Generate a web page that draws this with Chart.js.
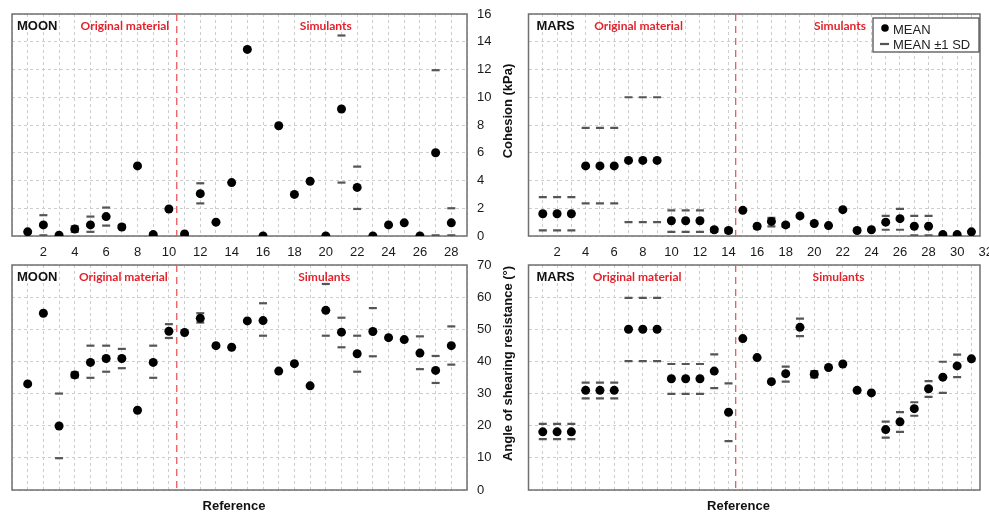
<!DOCTYPE html>
<html>
<head>
<meta charset="utf-8">
<script src="https://cdn.jsdelivr.net/npm/chart.js@4.4.1/dist/chart.umd.min.js"></script>
<style>
  body { margin: 0; background: #fff; }
  #wrap { position: relative; width: 989px; height: 513px; overflow: hidden; }
  #wrap canvas { position: absolute; left: 0; top: 0; }
</style>
</head>
<body>
<div id="wrap">
  <canvas id="moonCoh" width="989" height="513"></canvas>
  <canvas id="marsCoh" width="989" height="513"></canvas>
  <canvas id="moonAng" width="989" height="513"></canvas>
  <canvas id="marsAng" width="989" height="513"></canvas>
</div>
<script>
// reference numbers (x categories)
const moonRefs = [1,2,3,4,5,6,7,8,9,10,11,12,13,14,15,16,17,18,19,20,21,22,23,24,25,26,27,28];
const marsRefs = [1,2,3,4,5,6,7,8,9,10,11,12,13,14,15,16,17,18,19,20,21,22,23,24,25,26,27,28,29,30,31];

// tick labels
const moonXTicks = [2,4,6,8,10,12,14,16,18,20,22,24,26,28];
const marsXTicks = [2,4,6,8,10,12,14,16,18,20,22,24,26,28,30,32];
const cohTicks = [0,2,4,6,8,10,12,14,16];
const angTicks = [0,10,20,30,40,50,60,70];

// cohesion (kPa) - moon
const moonCohMean = [0.3,0.8,0.05,0.5,0.8,1.4,0.65,5.05,0.1,1.95,0.15,3.05,1.0,3.85,13.45,0,7.95,3.0,3.95,0,9.15,3.5,0,0.8,0.95,0,6.0,0.95];
const moonCohUp   = [null,1.5,null,0.7,1.4,2.05,0.8,null,0.2,null,null,3.8,null,null,null,null,null,null,null,null,14.45,5.0,null,null,null,null,11.95,2.0];
const moonCohLo   = [null,0.05,null,0.3,0.3,0.75,0.55,null,0.05,null,null,2.35,null,null,null,null,null,null,null,null,3.85,1.95,null,null,null,null,0.05,0.05];

// cohesion (kPa) - mars
const marsCohMean = [1.6,1.6,1.6,5.05,5.05,5.05,5.45,5.45,5.45,1.1,1.1,1.1,0.45,0.4,1.85,0.7,1.05,0.8,1.45,0.9,0.75,1.9,0.4,0.45,1.0,1.25,0.7,0.7,0.1,0.1,0.3];
const marsCohUp   = [2.8,2.8,2.8,7.8,7.8,7.8,10.0,10.0,10.0,1.85,1.85,1.85,0.55,0.5,null,0.8,1.3,0.9,null,null,null,null,null,null,1.45,1.95,1.45,1.45,0.2,0.2,null];
const marsCohLo   = [0.4,0.4,0.4,2.35,2.35,2.35,1.0,1.0,1.0,0.3,0.3,0.3,0.3,0.25,null,0.55,0.7,0.65,null,null,null,null,null,null,0.45,0.45,0.05,0.05,0.05,0.05,null];

// angle of shearing resistance (deg) - moon
const moonAngMean = [33,55,19.9,35.8,39.7,40.9,40.9,24.8,39.7,49.4,49,53.4,44.9,44.4,52.6,52.7,37,39.3,32.4,55.9,49.1,42.4,49.3,47.4,46.8,42.6,37.2,44.9];
const moonAngUp   = [null,null,30,36.6,44.9,44.9,43.9,null,44.9,51.6,null,55,null,null,null,58.1,null,null,null,64.1,53.6,48,56.6,null,null,47.8,41.7,50.9];
const moonAngLo   = [null,null,9.9,35,34.9,36.8,37.9,null,34.9,47.3,null,52.1,null,null,null,48,null,null,null,48,44.4,36.8,41.6,null,null,37.6,33.3,39];

// angle of shearing resistance (deg) - mars
const marsAngMean = [18.1,18.1,18.1,31,31,31,50,50,50,34.6,34.6,34.6,37,24.2,47.1,41.2,33.7,36.2,50.6,36,38.1,39.2,31,30.2,18.8,21.2,25.3,31.5,35.1,38.6,40.8];
const marsAngUp   = [20.6,20.6,20.6,33.4,33.4,33.4,59.8,59.8,59.8,39.2,39.2,39.2,42.2,33.2,null,null,null,38.4,53.3,37,null,null,null,null,21.3,24.2,27.3,33.9,39.9,42.1,null];
const marsAngLo   = [15.8,15.8,15.8,28.5,28.5,28.5,40.1,40.1,40.1,29.9,29.9,29.9,31.7,15.2,null,null,null,33.7,47.9,35,null,null,null,null,16.3,18.1,23.1,29,30.2,35.1,null];

const FONT = '"Liberation Sans", Arial, Helvetica, sans-serif';
const GRID = '#cdcdcd';

function pts(refs, vals) {
  const out = [];
  vals.forEach((v, i) => { if (v !== null) out.push({ x: refs[i], y: v }); });
  return out;
}

// frame, split line, panel texts, axis titles, legend
const deco = {
  id: 'deco',
  beforeDatasetsDraw(chart, args, o) {
    const { ctx, chartArea: a, scales } = chart;
    ctx.save();
    ctx.strokeStyle = '#707070';
    ctx.lineWidth = 1.5;
    ctx.strokeRect(a.left, a.top, a.right - a.left, a.bottom - a.top);

    const sx = scales.x.getPixelForValue(o.split);
    ctx.strokeStyle = '#ec5b5b';
    ctx.lineWidth = 1.3;
    ctx.setLineDash([7, 5]);
    ctx.beginPath();
    ctx.moveTo(sx, a.top);
    ctx.lineTo(sx, a.bottom);
    ctx.stroke();
    ctx.setLineDash([]);

    ctx.textBaseline = 'middle';
    ctx.textAlign = 'left';
    ctx.fillStyle = '#111';
    ctx.font = 'bold 13px ' + FONT;
    ctx.fillText(o.name, a.left + o.nameDx, a.top + 12);
    ctx.textAlign = 'center';
    ctx.fillStyle = '#e3222c';
    ctx.font = 'bold 12px Lato, ' + FONT;
    ctx.fillText('Original material', scales.x.getPixelForValue(o.origAt), a.top + 12);
    ctx.fillText('Simulants', scales.x.getPixelForValue(o.simAt), a.top + 12);
    ctx.restore();
  },
  afterDraw(chart, args, o) {
    const { ctx, chartArea: a, scales } = chart;
    ctx.save();
    ctx.fillStyle = '#111';
    ctx.font = 'bold 13px ' + FONT;
    ctx.textAlign = 'center';
    ctx.textBaseline = 'middle';
    if (o.yTitle) {
      ctx.save();
      ctx.translate(a.right + 41, (a.top + a.bottom) / 2 - 14);
      ctx.rotate(-Math.PI / 2);
      ctx.fillText(o.yTitle, 0, 0);
      ctx.restore();
    }
    if (o.xTitleAt) {
      ctx.fillText('Reference', scales.x.getPixelForValue(o.xTitleAt), a.bottom + 16);
    }
    if (o.legend) {
      const bx = a.right - 107, by = a.top + 4;
      ctx.fillStyle = '#fff';
      ctx.fillRect(bx, by, 106, 34);
      ctx.strokeStyle = '#555';
      ctx.lineWidth = 1.3;
      ctx.strokeRect(bx, by, 106, 34);
      ctx.fillStyle = '#000';
      ctx.beginPath();
      ctx.arc(bx + 12, by + 10, 3.8, 0, Math.PI * 2);
      ctx.fill();
      ctx.strokeStyle = '#555';
      ctx.lineWidth = 2.2;
      ctx.beginPath();
      ctx.moveTo(bx + 7, by + 26);
      ctx.lineTo(bx + 16, by + 26);
      ctx.stroke();
      ctx.fillStyle = '#222';
      ctx.font = '13px ' + FONT;
      ctx.textAlign = 'left';
      ctx.fillText('MEAN', bx + 20, by + 12);
      ctx.fillText('MEAN \u00b11 SD', bx + 20, by + 27);
    }
    ctx.restore();
  }
};

function panel(id, o) {
  return new Chart(document.getElementById(id), {
    type: 'scatter',
    data: {
      datasets: [
        { data: pts(o.refs, o.mean), pointStyle: 'circle', pointRadius: 4.5,
          backgroundColor: '#000', borderColor: '#000', borderWidth: 0 },
        { data: pts(o.refs, o.up), pointStyle: 'line', pointRadius: 4,
          borderColor: '#555', borderWidth: 2.2 },
        { data: pts(o.refs, o.lo), pointStyle: 'line', pointRadius: 4,
          borderColor: '#555', borderWidth: 2.2 }
      ]
    },
    options: {
      responsive: false,
      animation: false,
      events: [],
      layout: { padding: o.pad },
      plugins: { legend: { display: false }, tooltip: { enabled: false }, deco: o.deco },
      scales: {
        x: {
          type: 'linear', min: 0, max: o.xMax, position: 'bottom',
          afterBuildTicks: s => { if (o.extraTick) s.ticks.push({ value: o.extraTick }); },
          afterFit: s => { s.height = o.xH; s.paddingLeft = 0; s.paddingRight = 0; },
          grid: { color: c => (c.tick && c.tick.value > o.xMax) ? 'rgba(0,0,0,0)' : GRID,
                  lineWidth: 1, drawTicks: false },
          border: { display: false, dash: [3, 3] },
          ticks: {
            display: o.xLabels !== null, stepSize: 1, autoSkip: false, maxRotation: 0,
            includeBounds: false, padding: 9, color: '#1a1a1a',
            font: { family: FONT, size: 13 },
            callback: v => (o.xLabels && o.xLabels.includes(v)) ? String(v) : ''
          }
        },
        y: {
          type: 'linear', min: 0, max: o.yMax, position: o.yPos,
          afterFit: s => { s.width = o.yW; s.paddingTop = 0; s.paddingBottom = 0; },
          grid: { color: GRID, lineWidth: 1, drawTicks: false },
          border: { display: false, dash: [3, 3] },
          ticks: {
            display: o.yShow, stepSize: o.yStep, padding: 10, color: '#1a1a1a',
            font: { family: FONT, size: 13 },
            callback: v => o.yLabels.includes(v) ? String(v) : ''
          }
        }
      }
    },
    plugins: [deco]
  });
}

panel('moonCoh', {
  refs: moonRefs, mean: moonCohMean, up: moonCohUp, lo: moonCohLo,
  xMax: 29, xLabels: moonXTicks, xH: 22, yMax: 16, yStep: 2, yLabels: cohTicks,
  yPos: 'right', yW: 58, yShow: true,
  pad: { left: 12, top: 14, right: 464, bottom: 255 },
  deco: { name: 'MOON', nameDx: 5, split: 10.5, origAt: 7.2, simAt: 20, yTitle: 'Cohesion (kPa)' }
});

panel('marsCoh', {
  refs: marsRefs, mean: marsCohMean, up: marsCohUp, lo: marsCohLo,
  xMax: 31.6, extraTick: 32, xLabels: marsXTicks, xH: 22, yMax: 16, yStep: 2, yLabels: cohTicks,
  yPos: 'left', yW: 0, yShow: false,
  pad: { left: 528.5, top: 14, right: 9, bottom: 255 },
  deco: { name: 'MARS', nameDx: 8, split: 14.5, origAt: 7.7, simAt: 21.8, legend: true }
});

panel('moonAng', {
  refs: moonRefs, mean: moonAngMean, up: moonAngUp, lo: moonAngLo,
  xMax: 29, xLabels: null, xH: 4, yMax: 70, yStep: 10, yLabels: angTicks,
  yPos: 'right', yW: 58, yShow: true,
  pad: { left: 12, top: 265, right: 464, bottom: 19 },
  deco: { name: 'MOON', nameDx: 5, split: 10.5, origAt: 7.1, simAt: 19.9,
          yTitle: 'Angle of shearing resistance (\u00b0)', xTitleAt: 14.15 }
});

panel('marsAng', {
  refs: marsRefs, mean: marsAngMean, up: marsAngUp, lo: marsAngLo,
  xMax: 31.6, xLabels: null, xH: 4, yMax: 70, yStep: 10, yLabels: angTicks,
  yPos: 'left', yW: 0, yShow: false,
  pad: { left: 528.5, top: 265, right: 9, bottom: 19 },
  deco: { name: 'MARS', nameDx: 8, split: 14.5, origAt: 7.6, simAt: 21.7, xTitleAt: 14.7 }
});
</script>
</body>
</html>
